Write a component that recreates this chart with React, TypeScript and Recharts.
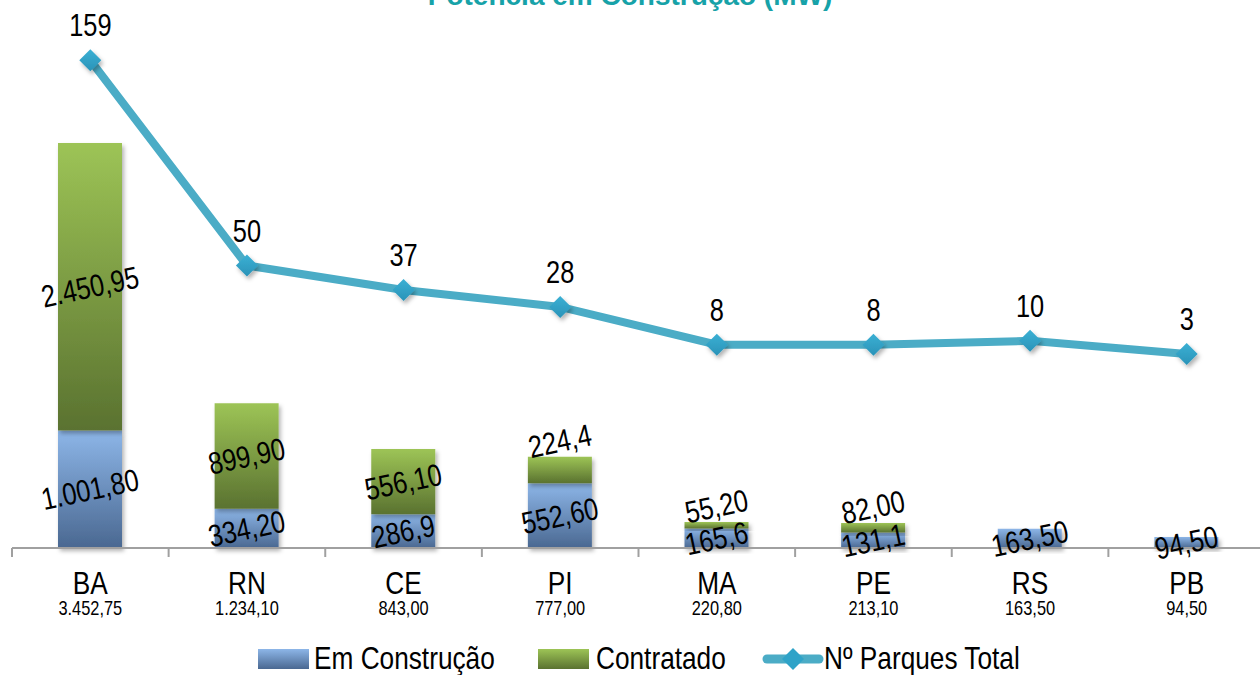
import { ComposedChart, Bar, Line, XAxis, YAxis, LabelList } from 'recharts';

// estados, potência em construção (MW) e nº de parques
const estados = ['BA', 'RN', 'CE', 'PI', 'MA', 'PE', 'RS', 'PB'];
const totais = ['3.452,75', '1.234,10', '843,00', '777,00', '220,80', '213,10', '163,50', '94,50'];
const emConstrucao = [1001.8, 334.2, 286.9, 552.6, 165.6, 131.1, 163.5, 94.5];
const emConstrucaoLabels = ['1.001,80', '334,20', '286,9', '552,60', '165,6', '131,1', '163,50', '94,50'];
const contratado = [2450.95, 899.9, 556.1, 224.4, 55.2, 82.0, 0, 0];
const contratadoLabels = ['2.450,95', '899,90', '556,10', '224,4', '55,20', '82,00', '', ''];
const parques = [159, 50, 37, 28, 8, 8, 10, 3];

const data = estados.map((uf, i) => ({
  uf,
  total: totais[i],
  emConstrucao: emConstrucao[i],
  emLabel: emConstrucaoLabels[i],
  contratado: contratado[i],
  ctLabel: contratadoLabels[i],
  parques: parques[i],
}));

// Arial Narrow não existe aqui: Liberation Sans comprimida na horizontal
const FONT = "'Liberation Sans', Arial, sans-serif";
const NARROW = 0.82;
const LEFT = 12;
const PLOT_W = 1253;
const BAND = PLOT_W / estados.length;
const AXIS_Y = 548;
const TOP = 20;
const LINE_COLOR = '#4bacc6';

function NarrowText({ x, y, size, anchor = 'middle', rotate = 0, baseline, children }: any) {
  return (
    <text
      transform={`translate(${x} ${y}) rotate(${rotate}) scale(${NARROW} 1)`}
      textAnchor={anchor}
      dominantBaseline={baseline}
      fontFamily={FONT}
      fontSize={size}
      fill="#000"
    >
      {children}
    </text>
  );
}

function CategoryTick(props: any) {
  const { x, payload, index } = props;
  const d = data[index] || data.find((r) => r.uf === payload.value);
  return (
    <g>
      <line x1={x - BAND / 2} x2={x - BAND / 2} y1={AXIS_Y} y2={AXIS_Y + 9} stroke="#a0a0a0" strokeWidth={2} />
      {index === estados.length - 1 && (
        <line x1={x + BAND / 2} x2={x + BAND / 2} y1={AXIS_Y} y2={AXIS_Y + 9} stroke="#a0a0a0" strokeWidth={2} />
      )}
      <NarrowText x={x} y={AXIS_Y + 46} size={32}>
        {payload.value}
      </NarrowText>
      <NarrowText x={x} y={AXIS_Y + 67} size={20}>
        {d ? d.total : ''}
      </NarrowText>
    </g>
  );
}

function makeBarLabel(lift: boolean) {
  return (props: any) => {
    const { x, y, width, height, value } = props;
    if (!value) return null;
    const cx = x + width / 2;
    let cy = y + height / 2;
    if (lift && height < 30) cy = y - 16;
    return (
      <NarrowText x={cx} y={cy} size={31} rotate={-12} baseline="central">
        {value}
      </NarrowText>
    );
  };
}

function LineLabel(props: any) {
  const { x, y, value } = props;
  return (
    <NarrowText x={x} y={y - 24} size={31}>
      {value}
    </NarrowText>
  );
}

function Diamond(props: any) {
  const { cx, cy } = props;
  const r = 11;
  return (
    <polygon
      points={`${cx},${cy - r} ${cx + r},${cy} ${cx},${cy + r} ${cx - r},${cy}`}
      fill="url(#gDiamond)"
      filter="url(#shadow)"
    />
  );
}

export default function App() {
  return (
    <div style={{ position: 'absolute', left: 0, top: 0, width: 1260, height: 675, overflow: 'hidden', background: '#fff' }}>
      <svg width={1260} height={30} style={{ position: 'absolute', left: 0, top: 0 }}>
        <text x={630} y={5} textAnchor="middle" fontFamily="'Liberation Sans', sans-serif" fontWeight="bold" fontSize={28} fill="#17a2a8">
          Potência em Construção (MW)
        </text>
      </svg>
      <div style={{ position: 'absolute', left: 0, top: 0 }}>
        <ComposedChart width={1266} height={675} data={data} margin={{ top: TOP, right: 1, left: LEFT, bottom: 0 }}>
          <defs>
            <linearGradient id="gBlue" x1="0" y1="0" x2="0" y2="1">
              <stop offset="0%" stopColor="#8db6e8" />
              <stop offset="100%" stopColor="#4a6891" />
            </linearGradient>
            <linearGradient id="gGreen" x1="0" y1="0" x2="0" y2="1">
              <stop offset="0%" stopColor="#9dc456" />
              <stop offset="100%" stopColor="#5a7230" />
            </linearGradient>
            <linearGradient id="gDiamond" x1="0" y1="0" x2="0" y2="1">
              <stop offset="0%" stopColor="#3bb0d4" />
              <stop offset="100%" stopColor="#2a93b8" />
            </linearGradient>
            <filter id="shadow" x="-30%" y="-30%" width="160%" height="160%">
              <feDropShadow dx="2" dy="3" stdDeviation="2" floodColor="#000" floodOpacity="0.3" />
            </filter>
          </defs>
          <XAxis
            dataKey="uf"
            height={675 - AXIS_Y}
            axisLine={{ stroke: '#a0a0a0', strokeWidth: 2 }}
            tickLine={false}
            tick={<CategoryTick />}
            interval={0}
          />
          <YAxis yAxisId="bar" hide domain={[0, 4500]} />
          <YAxis yAxisId="line" hide orientation="right" domain={[-100, 180.4]} />
          <Bar yAxisId="bar" dataKey="emConstrucao" stackId="a" fill="url(#gBlue)" barSize={64} filter="url(#shadow)" isAnimationActive={false}>
            <LabelList dataKey="emLabel" content={makeBarLabel(false)} />
          </Bar>
          <Bar yAxisId="bar" dataKey="contratado" stackId="a" fill="url(#gGreen)" barSize={64} filter="url(#shadow)" isAnimationActive={false}>
            <LabelList dataKey="ctLabel" content={makeBarLabel(true)} />
          </Bar>
          <Line
            yAxisId="line"
            dataKey="parques"
            stroke={LINE_COLOR}
            strokeWidth={8}
            dot={<Diamond />}
            activeDot={false}
            isAnimationActive={false}
          >
            <LabelList dataKey="parques" content={<LineLabel />} />
          </Line>
        </ComposedChart>
      </div>
      {/* legenda */}
      <svg width={1260} height={40} style={{ position: 'absolute', left: 0, top: 635 }}>
        <defs>
          <linearGradient id="lgBlue" x1="0" y1="0" x2="0" y2="1">
            <stop offset="0%" stopColor="#8db6e8" />
            <stop offset="100%" stopColor="#4a6891" />
          </linearGradient>
          <linearGradient id="lgGreen" x1="0" y1="0" x2="0" y2="1">
            <stop offset="0%" stopColor="#9dc456" />
            <stop offset="100%" stopColor="#5a7230" />
          </linearGradient>
        </defs>
        <rect x={258} y={14} width={51} height={20} fill="url(#lgBlue)" />
        <NarrowText x={314} y={34} size={32} anchor="start">Em Construção</NarrowText>
        <rect x={538} y={14} width={51} height={20} fill="url(#lgGreen)" />
        <NarrowText x={596} y={34} size={32} anchor="start">Contratado</NarrowText>
        <line x1={767} x2={819} y1={24} y2={24} stroke={LINE_COLOR} strokeWidth={9} strokeLinecap="round" />
        <polygon points="793,13 804,24 793,35 782,24" fill="#2fa3c8" />
        <NarrowText x={824} y={34} size={32} anchor="start">Nº Parques Total</NarrowText>
      </svg>
    </div>
  );
}
